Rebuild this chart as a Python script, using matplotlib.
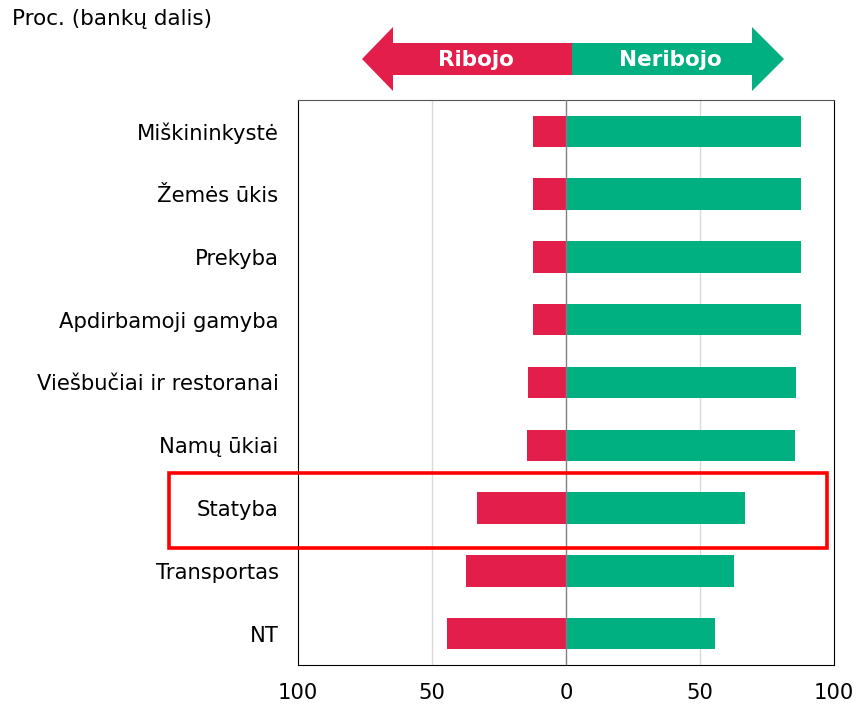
import matplotlib.pyplot as plt
from matplotlib.patches import Polygon, Rectangle

categories = ['Miškininkystė', 'Žemės ūkis', 'Prekyba', 'Apdirbamoji gamyba',
              'Viešbučiai ir restoranai', 'Namų ūkiai', 'Statyba', 'Transportas', 'NT']
ribojo = [12.5, 12.5, 12.5, 12.5, 14.3, 14.5, 33.3, 37.5, 44.4]
neribojo = [87.5, 87.5, 87.5, 87.5, 85.7, 85.5, 66.7, 62.5, 55.6]
xticks = [-100, -50, 0, 50, 100]
xticklabels = ['100', '50', '0', '50', '100']

RED = '#E31E4A'
GREEN = '#00B080'
W, H = 861, 704

plt.rcParams['font.family'] = 'DejaVu Sans'
fig = plt.figure(figsize=(W / 100, H / 100), dpi=100)
ax = fig.add_axes([298 / W, 39 / H, 536 / W, 565 / H])

y = list(range(len(categories)))
ax.barh(y, [-v for v in ribojo], height=0.5, color=RED, zorder=2)
ax.barh(y, neribojo, height=0.5, color=GREEN, zorder=2)

ax.set_xlim(-100, 100)
ax.set_ylim(len(categories) - 0.5, -0.5)
ax.set_yticks(y)
ax.set_yticklabels(categories, fontsize=15.2)
ax.set_xticks(xticks)
ax.set_xticklabels(xticklabels, fontsize=15.2)
ax.tick_params(length=0, axis='y', pad=14)
ax.tick_params(length=0, axis='x', pad=13)
for x in (-50, 50):
    ax.axvline(x, color='#d9d9d9', lw=1, zorder=1)
ax.axvline(0, color='#808080', lw=1, zorder=3)
for s in ['left', 'right', 'bottom']:
    ax.spines[s].set_color('black')
ax.spines['top'].set_color('#555555')


def fx(px):
    return px / W


def fy(py):
    return 1 - py / H


# header arrows
left_arrow = [(362, 59), (393, 27), (393, 43), (572, 43), (572, 75), (393, 75), (393, 91)]
right_arrow = [(572, 43), (752, 43), (752, 27), (784, 59), (752, 91), (752, 75), (572, 75)]
fig.add_artist(Polygon([(fx(a), fy(b)) for a, b in left_arrow], closed=True,
                       facecolor=RED, edgecolor='none', transform=fig.transFigure))
fig.add_artist(Polygon([(fx(a), fy(b)) for a, b in right_arrow], closed=True,
                       facecolor=GREEN, edgecolor='none', transform=fig.transFigure))
fig.text(fx(476), fy(60), 'Ribojo', color='white', fontsize=15.5, fontweight='bold',
         ha='center', va='center')
fig.text(fx(670), fy(60), 'Neribojo', color='white', fontsize=15.5, fontweight='bold',
         ha='center', va='center')

fig.text(fx(12), fy(19), 'Proc. (bankų dalis)', fontsize=15.5, ha='left', va='center')

# highlight box around Statyba
fig.add_artist(Rectangle((fx(169), fy(548)), (827 - 169) / W, (548 - 473) / H,
                         fill=False, edgecolor='#ff0000', lw=2.6,
                         transform=fig.transFigure))

fig.savefig('out.png', dpi=100)
